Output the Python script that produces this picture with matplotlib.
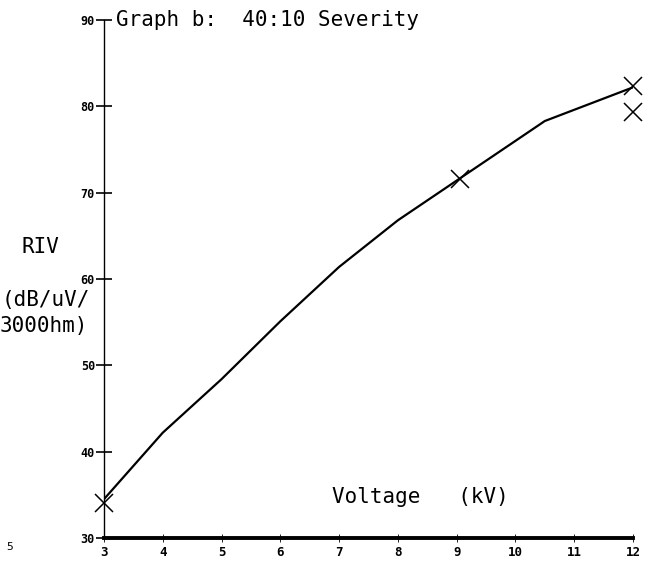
import matplotlib
matplotlib.use("Agg")
import matplotlib.pyplot as plt

# Data
curve_kv = [3, 4, 5, 6, 7, 8, 9, 10, 10.5, 11, 12]
curve_riv = [34.5, 42.2, 48.4, 55.1, 61.4, 66.8, 71.4, 76.0, 78.3, 79.6, 82.2]
meas_kv = [3, 9.05, 12, 12]
meas_riv = [34.0, 71.6, 82.4, 79.4]
x_ticks = [3, 4, 5, 6, 7, 8, 9, 10, 11, 12]
y_ticks = [30, 40, 50, 60, 70, 80, 90]

mono = "DejaVu Sans Mono"

fig = plt.figure(figsize=(6.54, 5.68), dpi=100)
ax = fig.add_axes([104/654, 1 - 538/568, (633 - 104)/654, (538 - 20)/568])

ax.plot(curve_kv, curve_riv, color="black", lw=1.6, solid_capstyle="round")
ax.plot(meas_kv, meas_riv, linestyle="none", marker="x", color="black",
        markersize=13, markeredgewidth=1.1, clip_on=False, zorder=5)

ax.set_xlim(3, 12)
ax.set_ylim(30, 90)
ax.set_xticks(x_ticks)
ax.set_yticks(y_ticks)
ax.set_xticklabels([str(t) for t in x_ticks], fontsize=9, family=mono, fontweight="bold")
ax.set_yticklabels([str(t) for t in y_ticks], fontsize=8.5, family=mono, fontweight="bold")

for s in ["top", "right"]:
    ax.spines[s].set_visible(False)
ax.spines["bottom"].set_linewidth(2.8)
ax.spines["left"].set_linewidth(1.0)
ax.tick_params(axis="y", direction="inout", length=11, width=1.2, pad=1)
ax.tick_params(axis="x", direction="inout", length=6, width=0.6, pad=3, colors="black")

fs = 15
fig.text(116/654, 1 - 20/568, "Graph b:  40:10 Severity", family=mono,
         fontsize=fs, va="center", ha="left")
fig.text(40/654, 1 - 247/568, "RIV", family=mono, fontsize=fs, va="center", ha="center")
fig.text(2/654, 1 - 300/568, "(dB/uV/", family=mono, fontsize=fs, va="center", ha="left")
fig.text(0/654, 1 - 326/568, "3000hm)", family=mono, fontsize=fs, va="center", ha="left")
fig.text(420/654, 1 - 497/568, "Voltage   (kV)", family=mono, fontsize=fs,
         va="center", ha="center")
fig.text(10/654, 1 - 547/568, "5", family=mono, fontsize=8, va="center", ha="center")

fig.savefig("out.png", dpi=100)
